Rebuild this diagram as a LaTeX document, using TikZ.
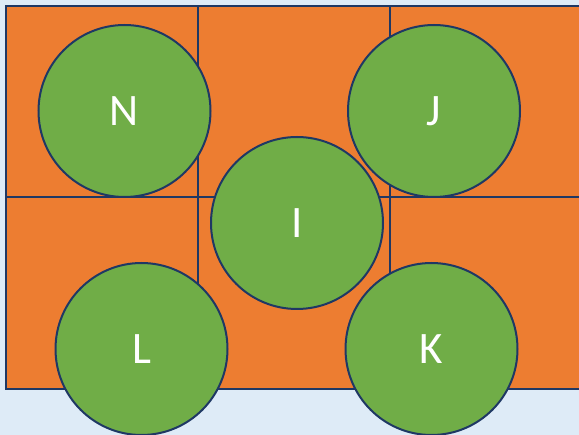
\documentclass[tikz,border=0pt]{standalone}
\usepackage{fontspec}
\setsansfont{Carlito}
\usetikzlibrary{shapes, calc, positioning}

\definecolor{paleblue}{HTML}{DEEBF7}
\definecolor{cellorange}{HTML}{ED7D31}
\definecolor{discgreen}{HTML}{70AD47}
\definecolor{edgeblue}{HTML}{1F3864}

\begin{document}
\begin{tikzpicture}[x=1pt, y=-1pt, font=\sffamily\fontsize{45}{54}\selectfont,
    cell/.style={draw=edgeblue, fill=cellorange, line width=2pt},
    disc/.style={circle, draw=edgeblue, fill=discgreen, line width=2pt, minimum size=172pt, inner sep=0pt, text=white}]
\fill[paleblue] (0,0) rectangle (579,435);
\useasboundingbox (0,0) rectangle (579,435);
\clip (0,0) rectangle (579,435);

% two rows of three cells
\foreach \row in {0,1} {
  \foreach \col in {0,1,2} {
    \draw[cell] ({6+192*\col},{6+191.5*\row}) rectangle ({198+192*\col},{197.5+191.5*\row});
  }
}

\node[disc] (n) at (124.5,111) {N};
\node[disc] (j) at (434,111) {J};
\node[disc] (i) at (297,223) {I};
\node[disc] (l) at (141.5,349) {L};
\node[disc] (k) at (431.5,349) {K};
\end{tikzpicture}
\end{document}
